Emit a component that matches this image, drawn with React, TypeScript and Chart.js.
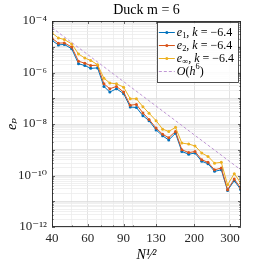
import React, { useEffect, useRef } from "react";
import { Chart, registerables } from "chart.js";

Chart.register(...registerables);

// ---- data ----
const sqrtN = [40, 43, 46, 50, 54, 58, 62, 67, 72, 77, 83, 90, 97, 104, 112, 120, 130, 140, 150, 162, 174, 188, 202, 218, 234, 252, 272, 292, 315, 339];

const e1Values = [
  1.74e-5, 1.18e-5, 1.23e-5, 8.32e-6, 2.19e-6, 1.86e-6, 1.45e-6, 1.51e-6,
  2.88e-7, 1.74e-7, 2.34e-7, 1.51e-7, 4.57e-8, 4.37e-8, 2.09e-8, 1.35e-8,
  5.89e-9, 3.47e-9, 2.4e-9, 4.37e-9, 8.51e-10, 6.76e-10, 7.41e-10, 3.55e-10,
  2.88e-10, 1.45e-10, 1.66e-10, 2.63e-11, 6.31e-11, 2.82e-11,
];

const e2Values = [
  2.14e-5, 1.38e-5, 1.41e-5, 9.77e-6, 2.75e-6, 2.29e-6, 1.86e-6, 1.91e-6,
  3.63e-7, 2.34e-7, 2.88e-7, 1.74e-7, 5.37e-8, 5.75e-8, 2.69e-8, 1.51e-8,
  6.92e-9, 3.98e-9, 2.95e-9, 5.13e-9, 1.0e-9, 7.76e-10, 8.51e-10, 4.07e-10,
  3.24e-10, 1.66e-10, 1.95e-10, 2.82e-11, 7.24e-11, 3.24e-11,
];

const eInfValues = [
  3.47e-5, 2.19e-5, 1.91e-5, 1.29e-5, 5.25e-6, 3.63e-6, 2.95e-6, 2.0e-6,
  6.03e-7, 3.89e-7, 3.63e-7, 2.69e-7, 9.55e-8, 9.55e-8, 4.68e-8, 2.63e-8,
  1.35e-8, 6.31e-9, 5.13e-9, 7.41e-9, 1.82e-9, 1.66e-9, 1.41e-9, 7.41e-10,
  5.5e-10, 3.02e-10, 3.24e-10, 4.37e-11, 1.18e-10, 5.13e-11,
];

const refX = [40, 339];
const refY = [5.5e-5, 1.66e-10];

const seriesLabels = ["e_1, k = −6.4", "e_2, k = −6.4", "e_∞, k = −6.4", "O(h^6)"];
const seriesColors = ["#0072BD", "#D95319", "#EDB120", "#B98BD0"];

const titleText = "Duck m = 6";
const xTitle = "N¹⁄²";
const yTitle = "eₚ";

const xTickValues = [40, 60, 90, 130, 200, 300];
const xGridValues = [40, 50, 60, 70, 80, 90, 100, 130, 200, 300];
const yLabelExponents = [-12, -10, -8, -6, -4];
const xMin = 40;
const xMax = 340;
const yMin = 1e-12;
const yMax = 1e-4;

// ---- helpers ----
const FONT = "'Liberation Serif', 'DejaVu Serif', serif";
const SUP: Record<string, string> = {
  "-": "⁻", "0": "⁰", "1": "¹", "2": "²", "3": "³", "4": "⁴",
  "5": "⁵", "6": "⁶", "7": "⁷", "8": "⁸", "9": "⁹",
};
const toSup = (n: number) => String(n).split("").map((c) => SUP[c] || c).join("");

const isPow10 = (v: number) => {
  const lg = Math.log10(v);
  return Math.abs(lg - Math.round(lg)) < 1e-6;
};

function drawRich(
  ctx: CanvasRenderingContext2D,
  text: string,
  x: number,
  y: number,
  size: number,
  color: string,
  draw: boolean
) {
  let cx = x;
  let i = 0;
  ctx.fillStyle = color;
  ctx.textBaseline = "middle";
  ctx.textAlign = "left";
  while (i < text.length) {
    let ch = text[i];
    let mode = "normal";
    if ((ch === "_" || ch === "^") && i + 1 < text.length) {
      mode = ch === "_" ? "sub" : "sup";
      ch = text[i + 1];
      i += 2;
    } else {
      i += 1;
    }
    const italic = /[A-Za-z]/.test(ch);
    const s = mode === "normal" ? size : size * 0.7;
    const dy = mode === "sub" ? size * 0.28 : mode === "sup" ? -size * 0.38 : 0;
    ctx.font = `${italic ? "italic " : ""}${s}px ${FONT}`;
    if (draw) ctx.fillText(ch, cx, y + dy);
    cx += ctx.measureText(ch).width;
  }
  return cx - x;
}

const frameAndTicksPlugin = {
  id: "frameAndTicks",
  afterDatasetsDraw(chart: any) {
    const { ctx, chartArea: ca } = chart;
    const xs = chart.scales.x;
    const ys = chart.scales.y;
    ctx.save();
    ctx.strokeStyle = "#262626";
    ctx.lineWidth = 0.7;
    ctx.beginPath();
    for (const t of ys.ticks) {
      const py = Math.round(ys.getPixelForValue(t.value)) + 0.5;
      const len = isPow10(t.value) ? 3 : 1.6;
      ctx.moveTo(ca.left, py);
      ctx.lineTo(ca.left + len, py);
      ctx.moveTo(ca.right, py);
      ctx.lineTo(ca.right - len, py);
    }
    for (const t of xs.ticks) {
      const px = Math.round(xs.getPixelForValue(t.value)) + 0.5;
      const len = xTickValues.includes(t.value) ? 3 : 1.6;
      ctx.moveTo(px, ca.bottom);
      ctx.lineTo(px, ca.bottom - len);
      ctx.moveTo(px, ca.top);
      ctx.lineTo(px, ca.top + len);
    }
    ctx.stroke();
    ctx.lineWidth = 0.9;
    ctx.strokeRect(ca.left + 0.5, ca.top + 0.5, ca.right - ca.left - 1, ca.bottom - ca.top - 1);
    ctx.restore();
  },
};

const legendPlugin = {
  id: "boxLegend",
  afterDraw(chart: any) {
    const { ctx, chartArea: ca } = chart;
    const size = 12;
    ctx.save();
    let maxW = 0;
    for (const lbl of seriesLabels) maxW = Math.max(maxW, drawRich(ctx, lbl, 0, 0, size, "#000", false));
    const sampleW = 16;
    const w = 2 + sampleW + 2 + maxW + 4;
    const rowH = 13;
    const h = rowH * seriesLabels.length + 8;
    const left = ca.right - 3 - w;
    const top = ca.top + 1;
    ctx.fillStyle = "rgba(255,255,255,0.85)";
    ctx.fillRect(left, top, w, h);
    ctx.strokeStyle = "#262626";
    ctx.lineWidth = 0.8;
    ctx.strokeRect(Math.round(left) + 0.5, Math.round(top) + 0.5, Math.round(w), Math.round(h));
    chart.data.datasets.forEach((ds: any, i: number) => {
      const cy = top + 10.5 + i * rowH;
      const x0 = left + 2;
      ctx.strokeStyle = ds.borderColor;
      ctx.lineWidth = ds.borderWidth;
      ctx.setLineDash(ds.borderDash || []);
      ctx.beginPath();
      ctx.moveTo(x0, cy);
      ctx.lineTo(x0 + sampleW, cy);
      ctx.stroke();
      ctx.setLineDash([]);
      if (ds.pointRadius > 0) {
        ctx.fillStyle = ds.borderColor;
        ctx.beginPath();
        ctx.arc(x0 + sampleW / 2, cy, ds.pointRadius, 0, Math.PI * 2);
        ctx.fill();
      }
      drawRich(ctx, seriesLabels[i], x0 + sampleW + 2, cy, size, "#000", true);
    });
    ctx.restore();
  },
};

export default function App() {
  const ref = useRef<HTMLCanvasElement>(null);

  useEffect(() => {
    document.body.style.margin = "0";
    const canvas = ref.current;
    if (!canvas) return;

    const series = [e1Values, e2Values, eInfValues];
    const datasets: any[] = series.map((vals, k) => ({
      label: seriesLabels[k],
      data: sqrtN.map((x, i) => ({ x, y: vals[i] })),
      borderColor: seriesColors[k],
      backgroundColor: seriesColors[k],
      pointBackgroundColor: seriesColors[k],
      pointBorderWidth: 0,
      pointRadius: 1.5,
      borderWidth: 1,
      tension: 0,
      order: 4 - k,
    }));
    datasets.push({
      label: seriesLabels[3],
      data: refX.map((x, i) => ({ x, y: refY[i] })),
      borderColor: seriesColors[3],
      backgroundColor: seriesColors[3],
      borderDash: [3, 2],
      borderWidth: 0.9,
      pointRadius: 0,
      order: 1,
    });

    const chart = new Chart(canvas, {
      type: "line",
      data: { datasets },
      options: {
        animation: false,
        responsive: false,
        devicePixelRatio: 1,
        layout: { padding: { top: 0, right: 25, bottom: 0, left: 0 } },
        plugins: {
          legend: { display: false },
          tooltip: { enabled: false },
          title: {
            display: true,
            text: titleText,
            fullSize: false,
            color: "#000",
            font: { family: FONT, size: 14, weight: "normal" },
            padding: { top: 2, bottom: 2.2 },
          },
        },
        scales: {
          x: {
            type: "logarithmic",
            min: xMin,
            max: xMax,
            afterBuildTicks: (scale: any) => {
              scale.ticks = xGridValues.map((v) => ({ value: v }));
            },
            afterFit: (scale: any) => {
              scale.height = 39;
            },
            ticks: {
              autoSkip: false,
              maxRotation: 0,
              minRotation: 0,
              padding: 4,
              color: "#262626",
              font: { family: FONT, size: 13 },
              callback: (value: any) => (xTickValues.includes(Number(value)) ? String(value) : ""),
            },
            grid: {
              drawTicks: false,
              color: (c: any) => (c.tick && xTickValues.includes(c.tick.value) ? "#dcdcdc" : "#ececec"),
              lineWidth: 0.8,
            },
            border: { display: false },
            title: {
              display: true,
              text: xTitle,
              color: "#000",
              font: { family: FONT, size: 14, style: "italic" },
              padding: { top: 0, bottom: 2.6 },
            },
          },
          y: {
            type: "logarithmic",
            min: yMin,
            max: yMax,
            afterBuildTicks: (scale: any) => {
              const t: any[] = [];
              for (let e = -12; e < -4; e++) {
                for (let m = 1; m < 10; m++) t.push({ value: m * Math.pow(10, e) });
              }
              t.push({ value: yMax });
              scale.ticks = t;
            },
            afterFit: (scale: any) => {
              scale.width = 52;
            },
            ticks: {
              autoSkip: false,
              padding: 5,
              color: "#262626",
              font: { family: FONT, size: 13 },
              callback: (value: any) => {
                const v = Number(value);
                if (!isPow10(v)) return "";
                const ex = Math.round(Math.log10(v));
                return yLabelExponents.includes(ex) ? "10" + toSup(ex) : "";
              },
            },
            grid: {
              drawTicks: false,
              color: (c: any) => (c.tick && isPow10(c.tick.value) ? "#dcdcdc" : "#ececec"),
              lineWidth: 0.8,
            },
            border: { display: false },
            title: {
              display: true,
              text: yTitle,
              color: "#000",
              font: { family: FONT, size: 14, style: "italic" },
              padding: { top: 3.6, bottom: 0 },
            },
          },
        },
      },
      plugins: [frameAndTicksPlugin, legendPlugin],
    } as any);

    return () => chart.destroy();
  }, []);

  return (
    <div style={{ width: 266, height: 266 }}>
      <canvas ref={ref} width={266} height={266} />
    </div>
  );
}
